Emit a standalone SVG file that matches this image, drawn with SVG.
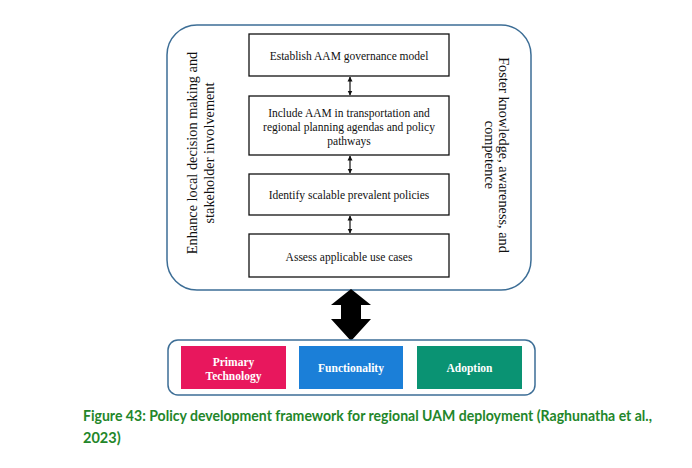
<svg xmlns="http://www.w3.org/2000/svg" width="692" height="468" viewBox="0 0 692 468">
<defs>
<style>
.frame{fill:#fff;stroke:#3d6e96;stroke-width:1.5}
.box{fill:#fff;stroke:#111;stroke-width:1.3}
.t{font-family:"Liberation Serif","Times New Roman",serif;font-size:11.5px;fill:#111;text-anchor:middle}
.side{font-family:"Liberation Serif","Times New Roman",serif;font-size:14.3px;fill:#111;text-anchor:middle}
.w{font-family:"Liberation Serif","Times New Roman",serif;font-size:11.5px;font-weight:bold;fill:#fff;text-anchor:middle}
.cap{font-family:Lato,"Open Sans",sans-serif;font-size:14.5px;font-weight:bold;fill:#23862a}
.link{stroke:#111;stroke-width:1.2;fill:none;marker-start:url(#ah);marker-end:url(#ah)}
</style>
<marker id="ah" viewBox="0 0 10 10" refX="9" refY="5" markerWidth="5" markerHeight="6" orient="auto-start-reverse" markerUnits="userSpaceOnUse">
<path d="M0,0 L10,5 L0,10 z" fill="#111"/>
</marker>
</defs>
<rect width="692" height="468" fill="#fff"/>
<g id="outer-frame">
<rect class="frame" x="167" y="25" width="364" height="265" rx="30" ry="30"/>
<text class="side" transform="translate(197,153) rotate(-90)">Enhance local decision making and</text>
<text class="side" transform="translate(214,153) rotate(-90)">stakeholder involvement</text>
<text class="side" transform="translate(499,155) rotate(90)">Foster knowledge, awareness, and</text>
<text class="side" transform="translate(485,155) rotate(90)">competence</text>
</g>
<g id="node-establish">
<rect class="box" x="249" y="34" width="200" height="42"/>
<text class="t" x="349" y="60">Establish AAM governance model</text>
</g>
<g id="node-include">
<rect class="box" x="249" y="96" width="200" height="59"/>
<text class="t" x="349" y="117">Include AAM in transportation and</text>
<text class="t" x="349" y="131">regional planning agendas and policy</text>
<text class="t" x="349" y="145">pathways</text>
</g>
<g id="node-identify">
<rect class="box" x="249" y="174" width="200" height="41"/>
<text class="t" x="349" y="199">Identify scalable prevalent policies</text>
</g>
<g id="node-assess">
<rect class="box" x="249" y="234" width="200" height="43"/>
<text class="t" x="349" y="261">Assess applicable use cases</text>
</g>
<g id="connectors">
<line class="link" x1="350" y1="77" x2="350" y2="95"/>
<line class="link" x1="350" y1="156" x2="350" y2="173"/>
<line class="link" x1="350" y1="216" x2="350" y2="233"/>
<path d="M351,289 L371,305 L361,305 L361,319 L371,319 L351,341 L331,319 L341,319 L341,305 L331,305 Z" fill="#000"/>
</g>
<g id="bottom-frame">
<rect class="frame" x="168" y="340" width="367" height="55" rx="10" ry="10"/>
</g>
<g id="node-primary">
<rect x="181" y="346" width="105" height="43" fill="#e8175d"/>
<text class="w" x="233.5" y="366">Primary</text>
<text class="w" x="233.5" y="380">Technology</text>
</g>
<g id="node-functionality">
<rect x="299" y="346" width="104" height="43" fill="#1b7fd8"/>
<text class="w" x="351" y="372">Functionality</text>
</g>
<g id="node-adoption">
<rect x="417" y="346" width="105" height="43" fill="#0a9373"/>
<text class="w" x="469.5" y="372">Adoption</text>
</g>
<g id="caption">
<text class="cap" x="83" y="421" textLength="569" lengthAdjust="spacingAndGlyphs">Figure 43: Policy development framework for regional UAM deployment (Raghunatha et al.,</text>
<text class="cap" x="83" y="443">2023)</text>
</g>
</svg>
